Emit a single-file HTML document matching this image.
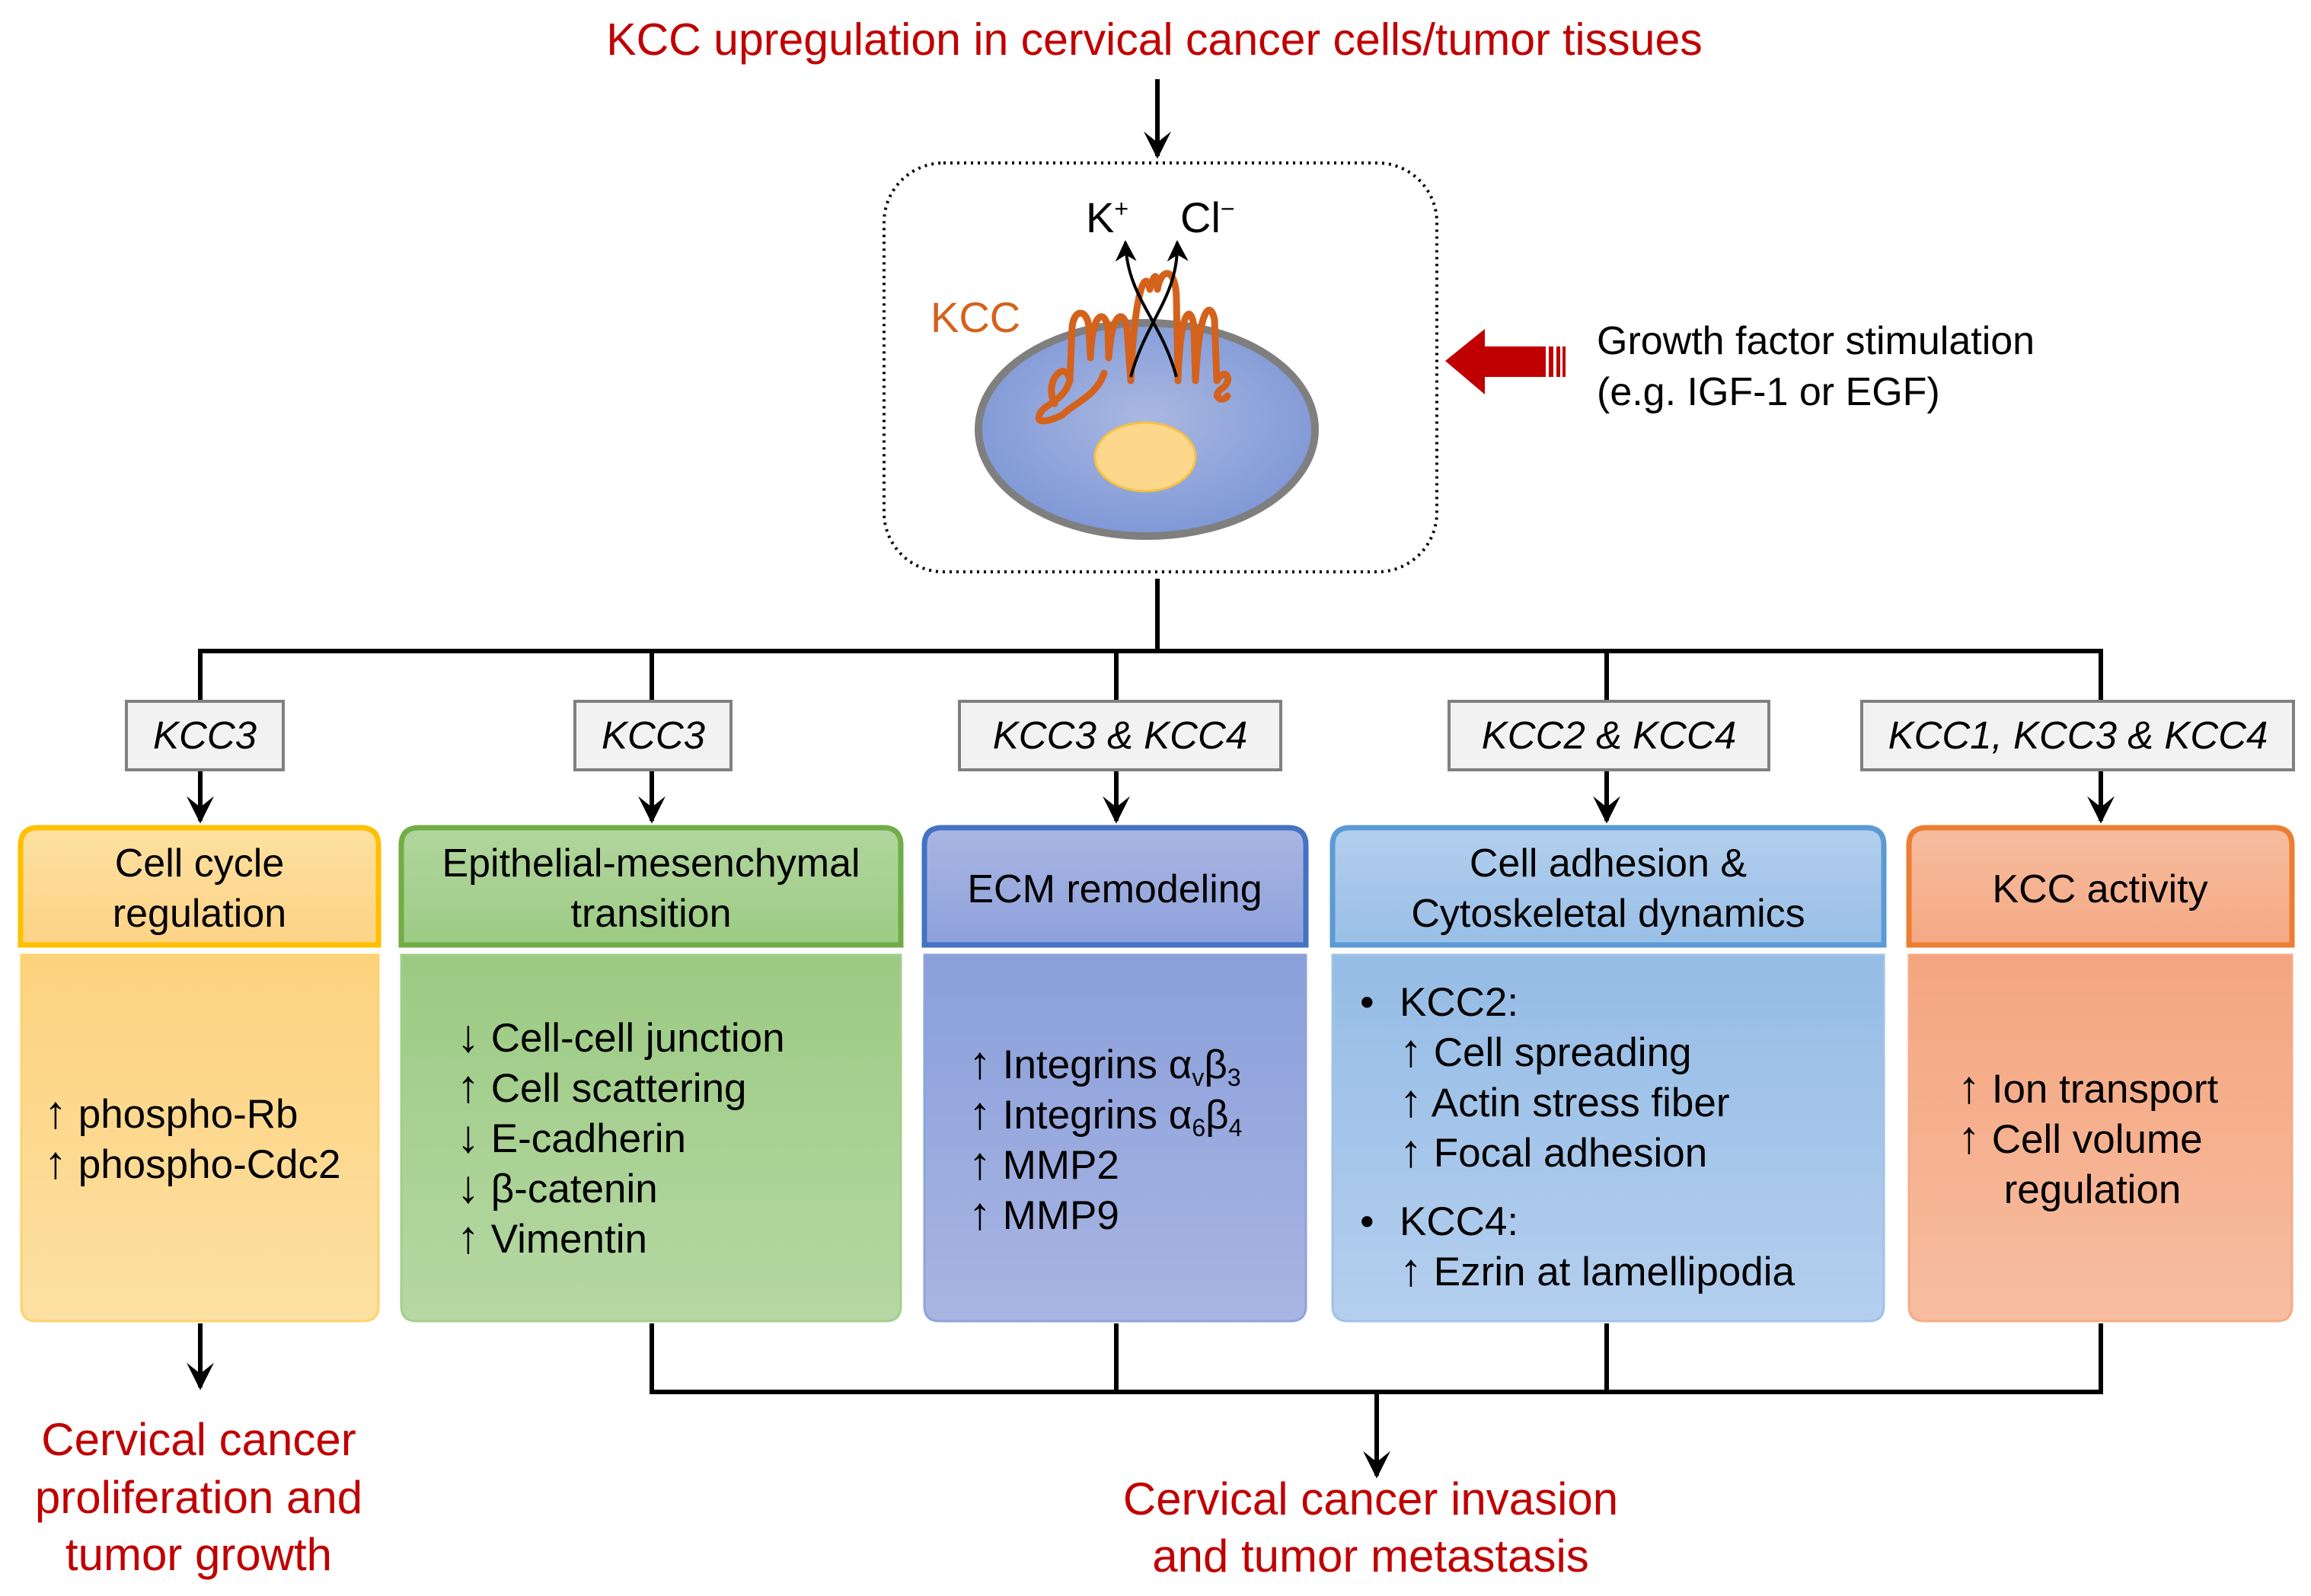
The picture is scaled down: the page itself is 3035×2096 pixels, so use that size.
<!DOCTYPE html>
<html><head><meta charset="utf-8"><style>
html,body{margin:0;padding:0;background:#fff;}
svg{display:block;font-family:"Liberation Sans",Arial,sans-serif;}
</style></head><body>
<svg width="3035" height="2096" viewBox="0 0 3035 2096" xmlns="http://www.w3.org/2000/svg">
<defs>
<marker id="ah" viewBox="0 0 10 10" refX="9" refY="5" markerWidth="6" markerHeight="6" orient="auto" markerUnits="strokeWidth">
<path d="M0,0 L10,5 L0,10 L4,5 z" fill="#000"/></marker>
<marker id="ah2" viewBox="0 0 10 10" refX="9" refY="5" markerWidth="7" markerHeight="7" orient="auto" markerUnits="strokeWidth">
<path d="M0,0 L10,5 L0,10 L3,5 z" fill="#000"/></marker>
<radialGradient id="cell" cx="0.5" cy="0.45" r="0.55"><stop offset="0" stop-color="#aab8e2"/><stop offset="1" stop-color="#7f98d6"/></radialGradient>
<linearGradient id="gY" x1="0" y1="0" x2="0" y2="1"><stop offset="0" stop-color="#fdd27e"/><stop offset="1" stop-color="#fde0a2"/></linearGradient>
<linearGradient id="gG" x1="0" y1="0" x2="0" y2="1"><stop offset="0" stop-color="#9bca82"/><stop offset="1" stop-color="#b6d8a4"/></linearGradient>
<linearGradient id="gB" x1="0" y1="0" x2="0" y2="1"><stop offset="0" stop-color="#8a9fda"/><stop offset="1" stop-color="#a8b5e2"/></linearGradient>
<linearGradient id="gL" x1="0" y1="0" x2="0" y2="1"><stop offset="0" stop-color="#95bce5"/><stop offset="1" stop-color="#b4cfee"/></linearGradient>
<linearGradient id="gO" x1="0" y1="0" x2="0" y2="1"><stop offset="0" stop-color="#f4a57f"/><stop offset="1" stop-color="#f7bda0"/></linearGradient>
<linearGradient id="hY" x1="0" y1="0" x2="0" y2="1"><stop offset="0" stop-color="#fde0a0"/><stop offset="1" stop-color="#fdd386"/></linearGradient>
<linearGradient id="hG" x1="0" y1="0" x2="0" y2="1"><stop offset="0" stop-color="#b2d69e"/><stop offset="1" stop-color="#9ccb84"/></linearGradient>
<linearGradient id="hB" x1="0" y1="0" x2="0" y2="1"><stop offset="0" stop-color="#aab6e3"/><stop offset="1" stop-color="#8da1da"/></linearGradient>
<linearGradient id="hL" x1="0" y1="0" x2="0" y2="1"><stop offset="0" stop-color="#b3cfee"/><stop offset="1" stop-color="#99bfe6"/></linearGradient>
<linearGradient id="hO" x1="0" y1="0" x2="0" y2="1"><stop offset="0" stop-color="#f7bd9f"/><stop offset="1" stop-color="#f4a984"/></linearGradient>
</defs>

<text x="1516" y="72" font-size="59" fill="#c00000" text-anchor="middle">KCC upregulation in cervical cancer cells/tumor tissues</text>
<line x1="1520" y1="104" x2="1520" y2="205" stroke="#000" stroke-width="6" marker-end="url(#ah)"/>

<rect x="1161" y="214" width="726" height="537" rx="78" fill="none" stroke="#000" stroke-width="4" stroke-dasharray="3 6"/>

<ellipse cx="1506" cy="564" rx="221" ry="140" fill="url(#cell)" stroke="#7f7f7f" stroke-width="10"/>
<ellipse cx="1504" cy="600" rx="66" ry="45" fill="#fdd78c" stroke="#f5c242" stroke-width="3"/>
<path d="M1385,530 C1370,500 1400,470 1405,500 L1408,430 C1410,405 1428,405 1430,430 L1432,470 C1434,410 1450,405 1455,430 L1456,470 C1460,410 1475,405 1480,430 L1485,500 C1490,380 1505,350 1510,380 C1515,360 1520,355 1520,380 C1525,350 1545,350 1545,395 L1547,500 C1550,400 1565,400 1568,430 L1570,500 C1575,400 1590,395 1595,420 L1598,500 C1610,480 1620,500 1605,510 C1590,520 1605,530 1612,520" fill="none" stroke="#d4621c" stroke-width="9" stroke-linejoin="round" stroke-linecap="round"/>
<path d="M1405,500 C1395,530 1370,530 1365,545 C1360,560 1385,550 1395,545" fill="none" stroke="#d4621c" stroke-width="9" stroke-linecap="round"/>
<path d="M1450,490 C1440,520 1410,530 1395,545" fill="none" stroke="#d4621c" stroke-width="9" stroke-linecap="round"/>
<path d="M1545,495 C1525,420 1480,390 1478,318" fill="none" stroke="#000" stroke-width="4" marker-end="url(#ah2)"/>
<path d="M1485,495 C1505,420 1548,390 1546,318" fill="none" stroke="#000" stroke-width="4" marker-end="url(#ah2)"/>
<text x="1426" y="305" font-size="56" fill="#000">K<tspan font-size="32" dy="-20">+</tspan></text>
<text x="1550" y="305" font-size="56" fill="#000">Cl<tspan font-size="32" dy="-20">−</tspan></text>
<text x="1222" y="436" font-size="56" fill="#d4621c">KCC</text>

<path d="M1898,474 L1950,432 L1950,455 L2030,455 L2030,495 L1950,495 L1950,518 Z" fill="#c00000"/>
<rect x="2034" y="455" width="6" height="40" fill="#c00000"/>
<rect x="2044" y="455" width="5" height="40" fill="#c00000"/>
<rect x="2052" y="455" width="4" height="40" fill="#c00000"/>
<text x="2097" y="465" font-size="52" fill="#000">Growth factor stimulation</text>
<text x="2097" y="532" font-size="52" fill="#000">(e.g. IGF-1 or EGF)</text>

<g stroke="#000" stroke-width="6" fill="none">
<line x1="1520" y1="760" x2="1520" y2="855"/>
<line x1="260" y1="855" x2="2762" y2="855"/>
<line x1="263" y1="852" x2="263" y2="920"/>
<line x1="856" y1="852" x2="856" y2="920"/>
<line x1="1466" y1="852" x2="1466" y2="920"/>
<line x1="2110" y1="852" x2="2110" y2="920"/>
<line x1="2759" y1="852" x2="2759" y2="920"/>
<line x1="263" y1="1011" x2="263" y2="1078" marker-end="url(#ah)"/>
<line x1="856" y1="1011" x2="856" y2="1078" marker-end="url(#ah)"/>
<line x1="1466" y1="1011" x2="1466" y2="1078" marker-end="url(#ah)"/>
<line x1="2110" y1="1011" x2="2110" y2="1078" marker-end="url(#ah)"/>
<line x1="2759" y1="1011" x2="2759" y2="1078" marker-end="url(#ah)"/>
</g>

<g fill="#f2f2f2" stroke="#808080" stroke-width="4">
<rect x="166" y="921" width="206" height="90"/>
<rect x="755" y="921" width="205" height="90"/>
<rect x="1260" y="921" width="422" height="90"/>
<rect x="1903" y="921" width="420" height="90"/>
<rect x="2445" y="921" width="567" height="90"/>
</g>
<g font-size="51" font-style="italic" text-anchor="middle" fill="#000">
<text x="269" y="983">KCC3</text>
<text x="858" y="983">KCC3</text>
<text x="1471" y="983">KCC3 &amp; KCC4</text>
<text x="2113" y="983">KCC2 &amp; KCC4</text>
<text x="2729" y="983">KCC1, KCC3 &amp; KCC4</text>
</g>

<path d="M27,1241 L27,1110 Q27,1087 50,1087 L474,1087 Q497,1087 497,1110 L497,1241 Z" fill="url(#hY)" stroke="#ffc000" stroke-width="7"/>
<path d="M527,1241 L527,1110 Q527,1087 550,1087 L1160,1087 Q1183,1087 1183,1110 L1183,1241 Z" fill="url(#hG)" stroke="#70ad47" stroke-width="7"/>
<path d="M1214,1241 L1214,1110 Q1214,1087 1237,1087 L1692,1087 Q1715,1087 1715,1110 L1715,1241 Z" fill="url(#hB)" stroke="#4472c4" stroke-width="7"/>
<path d="M1750,1241 L1750,1110 Q1750,1087 1773,1087 L2451,1087 Q2474,1087 2474,1110 L2474,1241 Z" fill="url(#hL)" stroke="#5b9bd5" stroke-width="7"/>
<path d="M2507,1241 L2507,1110 Q2507,1087 2530,1087 L2987,1087 Q3010,1087 3010,1110 L3010,1241 Z" fill="url(#hO)" stroke="#ed7d31" stroke-width="7"/>
<g font-size="52" text-anchor="middle" fill="#000">
<text x="262" y="1151">Cell cycle</text>
<text x="262" y="1217">regulation</text>
<text x="855" y="1151">Epithelial-mesenchymal</text>
<text x="855" y="1217">transition</text>
<text x="1464" y="1185">ECM remodeling</text>
<text x="2112" y="1151">Cell adhesion &amp;</text>
<text x="2112" y="1217">Cytoskeletal dynamics</text>
<text x="2758" y="1185">KCC activity</text>
</g>

<path d="M28,1254 L497,1254 L497,1715 Q497,1735 477,1735 L48,1735 Q28,1735 28,1715 Z" fill="url(#gY)" stroke="#fed36a" stroke-width="3"/>
<path d="M527,1254 L1183,1254 L1183,1715 Q1183,1735 1163,1735 L547,1735 Q527,1735 527,1715 Z" fill="url(#gG)" stroke="#a3cf8c" stroke-width="3"/>
<path d="M1214,1254 L1715,1254 L1715,1715 Q1715,1735 1695,1735 L1234,1735 Q1214,1735 1214,1715 Z" fill="url(#gB)" stroke="#8fa3db" stroke-width="3"/>
<path d="M1750,1254 L2474,1254 L2474,1715 Q2474,1735 2454,1735 L1770,1735 Q1750,1735 1750,1715 Z" fill="url(#gL)" stroke="#9fc2e8" stroke-width="3"/>
<path d="M2507,1254 L3010,1254 L3010,1715 Q3010,1735 2990,1735 L2527,1735 Q2507,1735 2507,1715 Z" fill="url(#gO)" stroke="#f5ac86" stroke-width="3"/>

<g font-size="53" fill="#000">
<text x="58" y="1481"><tspan font-size="60">↑</tspan> phospho-Rb</text>
<text x="58" y="1547"><tspan font-size="60">↑</tspan> phospho-Cdc2</text>

<text x="600" y="1381"><tspan font-size="60">↓</tspan> Cell-cell junction</text>
<text x="600" y="1447"><tspan font-size="60">↑</tspan> Cell scattering</text>
<text x="600" y="1513"><tspan font-size="60">↓</tspan> E-cadherin</text>
<text x="600" y="1579"><tspan font-size="60">↓</tspan> β-catenin</text>
<text x="600" y="1645"><tspan font-size="60">↑</tspan> Vimentin</text>

<text x="1272" y="1416"><tspan font-size="60">↑</tspan> Integrins α<tspan font-size="32" dy="10">v</tspan><tspan dy="-10">β</tspan><tspan font-size="32" dy="10">3</tspan></text>
<text x="1272" y="1482"><tspan font-size="60">↑</tspan> Integrins α<tspan font-size="32" dy="10">6</tspan><tspan dy="-10">β</tspan><tspan font-size="32" dy="10">4</tspan></text>
<text x="1272" y="1548"><tspan font-size="60">↑</tspan> MMP2</text>
<text x="1272" y="1614"><tspan font-size="60">↑</tspan> MMP9</text>

<text x="1786" y="1334">•</text>
<text x="1838" y="1334">KCC2:</text>
<text x="1838" y="1400"><tspan font-size="60">↑</tspan> Cell spreading</text>
<text x="1838" y="1466"><tspan font-size="60">↑</tspan> Actin stress fiber</text>
<text x="1838" y="1532"><tspan font-size="60">↑</tspan> Focal adhesion</text>
<text x="1786" y="1622">•</text>
<text x="1838" y="1622">KCC4:</text>
<text x="1838" y="1688"><tspan font-size="60">↑</tspan> Ezrin at lamellipodia</text>

<text x="2571" y="1448"><tspan font-size="60">↑</tspan> Ion transport</text>
<text x="2571" y="1514"><tspan font-size="60">↑</tspan> Cell volume</text>
<text x="2748" y="1580" text-anchor="middle">regulation</text>
</g>

<g stroke="#000" stroke-width="6" fill="none">
<line x1="263" y1="1738" x2="263" y2="1822" marker-end="url(#ah)"/>
<line x1="856" y1="1738" x2="856" y2="1830"/>
<line x1="1466" y1="1738" x2="1466" y2="1830"/>
<line x1="2110" y1="1738" x2="2110" y2="1830"/>
<line x1="2759" y1="1738" x2="2759" y2="1830"/>
<line x1="853" y1="1828" x2="2762" y2="1828"/>
<line x1="1808" y1="1826" x2="1808" y2="1938" marker-end="url(#ah)"/>
</g>

<g font-size="60" fill="#c00000" text-anchor="middle">
<text x="261" y="1911">Cervical cancer</text>
<text x="261" y="1987">proliferation and</text>
<text x="261" y="2062">tumor growth</text>
<text x="1800" y="1989">Cervical cancer invasion</text>
<text x="1800" y="2064">and tumor metastasis</text>
</g>
</svg>
</body></html>
